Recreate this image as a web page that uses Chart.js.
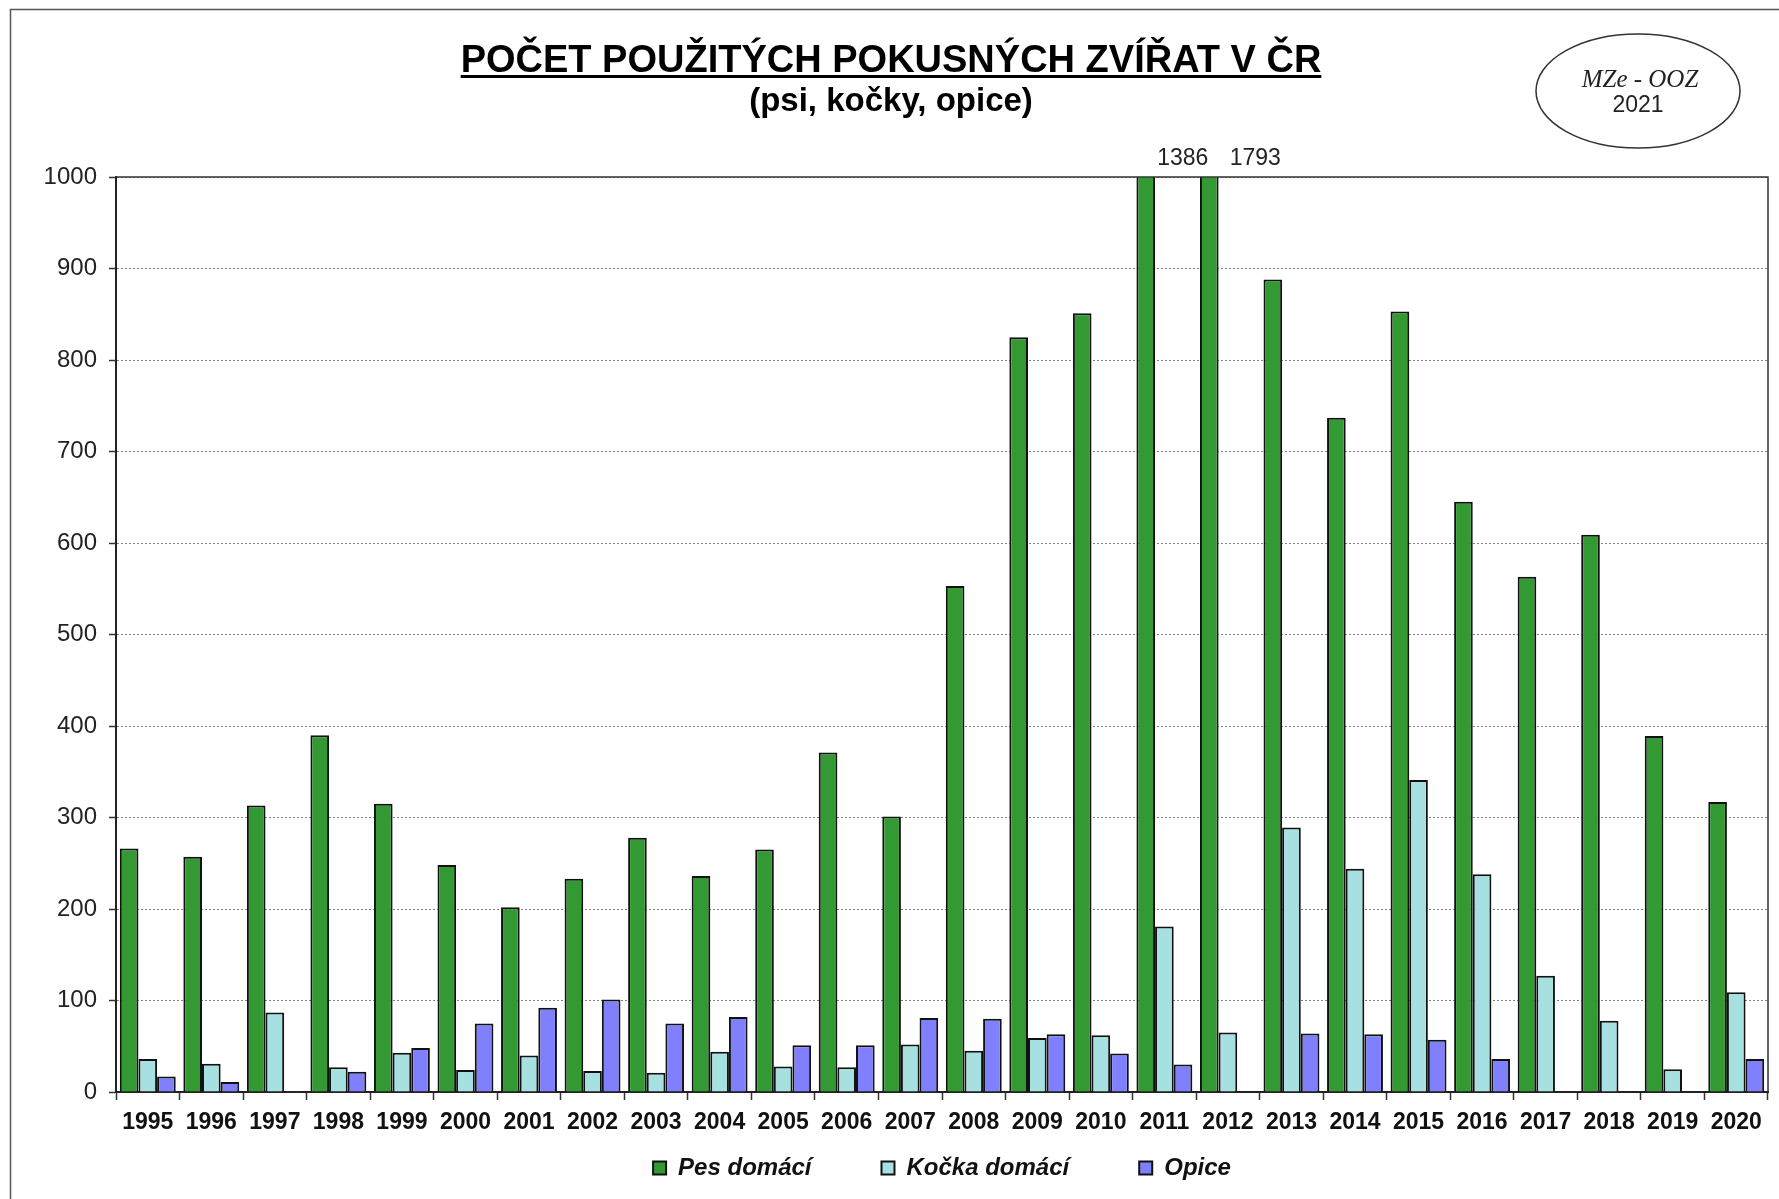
<!DOCTYPE html>
<html>
<head>
<meta charset="utf-8">
<script src="https://cdn.jsdelivr.net/npm/chart.js@4.4.1/dist/chart.umd.min.js"></script>
<style>
html,body{margin:0;padding:0;background:#fff;}
canvas{display:block;}
</style>
</head>
<body>
<canvas id="c" width="1779" height="1199"></canvas>
<script>
const years = ['1995','1996','1997','1998','1999','2000','2001','2002','2003','2004','2005','2006','2007','2008','2009','2010','2011','2012','2013','2014','2015','2016','2017','2018','2019','2020'];
const pesDomaci = [266, 257, 313, 390, 315, 248, 202, 233, 278, 236, 265, 371, 301, 553, 825, 851, 1386, 1793, 888, 737, 853, 645, 563, 609, 389, 317];
const kockaDomaci = [36, 31, 87, 27, 43, 24, 40, 23, 21, 44, 28, 27, 52, 45, 59, 62, 181, 65, 289, 244, 341, 238, 127, 78, 25, 109];
const opice = [17, 11, 1, 22, 48, 75, 92, 101, 75, 82, 51, 51, 81, 80, 63, 42, 30, 0, 64, 63, 57, 36, 0, 0, 0, 36];
const yTickValues = [0, 100, 200, 300, 400, 500, 600, 700, 800, 900, 1000];
const yTickLabels = ['0', '100', '200', '300', '400', '500', '600', '700', '800', '900', '1000'];
const seriesNames = ['Pes domácí', 'Kočka domácí', 'Opice'];
const titleText = 'POČET POUŽITÝCH POKUSNÝCH ZVÍŘAT V ČR';
const subtitleText = '(psi, kočky, opice)';
const stampLine1 = 'MZe - OOZ';
const stampLine2 = '2021';

const SANS = '"Liberation Sans", Arial, Helvetica, sans-serif';
const SERIF = '"Liberation Serif", "Times New Roman", serif';
const Y_MAX = 1000;

const decor = {
  id: 'decor',
  afterLayout(chart, args, opts) {
    // move the legend row to its place below the year labels
    const lg = chart.legend;
    if (lg) {
      lg.top = opts.legendTop;
      lg.height = opts.legendHeight;
      lg.bottom = opts.legendTop + opts.legendHeight;
    }
  },
  afterDraw(chart, args, opts) {
    const ctx = chart.ctx;
    const ca = chart.chartArea;
    ctx.save();
    // outer frame
    ctx.strokeStyle = '#555';
    ctx.lineWidth = 1.5;
    ctx.strokeRect(10.5, 9.5, 2400, 2400);
    // plot frame (top + right)
    ctx.strokeStyle = '#333';
    ctx.lineWidth = 1.5;
    ctx.beginPath();
    ctx.moveTo(ca.left, ca.top);
    ctx.lineTo(ca.right, ca.top);
    ctx.lineTo(ca.right, ca.bottom);
    ctx.stroke();
    // title
    ctx.fillStyle = '#000';
    ctx.textAlign = 'center';
    ctx.textBaseline = 'alphabetic';
    ctx.font = 'bold 38px ' + SANS;
    const tx = 891, ty = 72;
    ctx.fillText(titleText, tx, ty);
    const tw = ctx.measureText(titleText).width;
    ctx.fillRect(tx - tw / 2, ty + 3, tw, 3);
    // subtitle
    ctx.font = 'bold 33px ' + SANS;
    ctx.textBaseline = 'middle';
    ctx.fillText(subtitleText, 891, 102);
    // stamp ellipse
    ctx.beginPath();
    ctx.ellipse(1638, 91, 102, 57, 0, 0, Math.PI * 2);
    ctx.strokeStyle = '#333';
    ctx.lineWidth = 1.5;
    ctx.stroke();
    ctx.fillStyle = '#222';
    ctx.font = 'italic 25px ' + SERIF;
    ctx.fillText(stampLine1, 1640, 80);
    ctx.font = '23px ' + SANS;
    ctx.fillText(stampLine2, 1638, 106);
    // values that overflow the axis
    const meta = chart.getDatasetMeta(0);
    ctx.font = '23px ' + SANS;
    ctx.fillStyle = '#222';
    let k = 0;
    pesDomaci.forEach((v, i) => {
      if (v > Y_MAX) {
        const dx = opts.overflowDx[k] !== undefined ? opts.overflowDx[k] : 40;
        ctx.fillText(String(v), meta.data[i].x + dx, ca.top - 18);
        k++;
      }
    });
    ctx.restore();
  }
};

new Chart(document.getElementById('c'), {
  type: 'bar',
  data: {
    labels: years,
    datasets: [
      { label: seriesNames[0], data: pesDomaci, backgroundColor: '#339933', borderColor: '#111', borderWidth: 2, clip: 0 },
      { label: seriesNames[1], data: kockaDomaci, backgroundColor: '#a6e0e0', borderColor: '#111', borderWidth: 2, clip: 0 },
      { label: seriesNames[2], data: opice, backgroundColor: '#8080ff', borderColor: '#111', borderWidth: 2, clip: 0 }
    ]
  },
  options: {
    responsive: false,
    animation: false,
    devicePixelRatio: 1,
    layout: { padding: { left: 0, right: 11, top: 177, bottom: 12 } },
    datasets: { bar: { categoryPercentage: 0.88, barPercentage: 1.0 } },
    scales: {
      x: {
        grid: { display: true, drawOnChartArea: false, drawTicks: true, tickLength: 8, tickColor: '#333', tickWidth: 1.5, offset: true },
        border: { display: true, color: '#222', width: 2 },
        ticks: { font: { family: SANS, size: 23, weight: 'bold' }, color: '#111', padding: 9, maxRotation: 0, autoSkip: false },
        afterFit(s) { s.height = 58; }
      },
      y: {
        min: 0,
        max: Y_MAX,
        afterBuildTicks(s) { s.ticks = yTickValues.map(v => ({ value: v })); },
        grid: { color: '#808080', lineWidth: 1, tickColor: '#333', tickLength: 7, tickWidth: 1.5, drawTicks: true },
        border: { display: true, color: '#222', width: 2, dash: [2, 2] },
        ticks: {
          font: { family: SANS, size: 24 }, color: '#222', padding: 12,
          callback: (v) => { const j = yTickValues.indexOf(v); return j >= 0 ? yTickLabels[j] : String(v); }
        },
        afterFit(s) { s.width = 116; }
      }
    },
    plugins: {
      legend: {
        position: 'bottom',
        align: 'center',
        fullSize: false,
        maxHeight: 37,
        labels: {
          boxWidth: 13,
          boxHeight: 13,
          padding: 70,
          color: '#111',
          font: { family: SANS, size: 24, weight: 'bold', style: 'italic' }
        }
      },
      title: { display: false },
      tooltip: { enabled: false },
      decor: { overflowDx: [37, 46], legendTop: 1086, legendHeight: 110 }
    }
  },
  plugins: [decor]
});
</script>
</body>
</html>
